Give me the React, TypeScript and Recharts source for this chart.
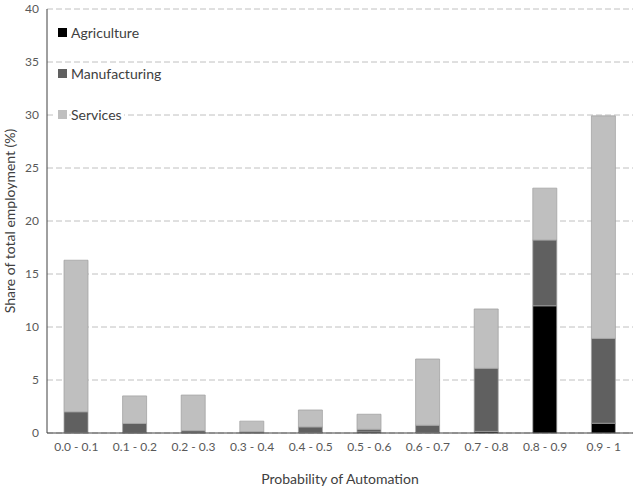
import { BarChart, Bar, XAxis, YAxis, CartesianGrid } from 'recharts'

const categories = ['0.0 - 0.1', '0.1 - 0.2', '0.2 - 0.3', '0.3 - 0.4', '0.4 - 0.5', '0.5 - 0.6', '0.6 - 0.7', '0.7 - 0.8', '0.8 - 0.9', '0.9 - 1']
const agriculture = [0.05, 0.02, 0.02, 0.02, 0.05, 0.1, 0.05, 0.15, 12.0, 0.92]
const manufacturing = [1.95, 0.88, 0.2, 0.1, 0.52, 0.25, 0.68, 5.95, 6.2, 8.0]
const services = [14.3, 2.6, 3.36, 1.0, 1.6, 1.42, 6.25, 5.6, 4.9, 21.0]
const yTicks = [0, 5, 10, 15, 20, 25, 30, 35, 40]

const data = categories.map((c, i) => ({
  name: c,
  Agriculture: agriculture[i],
  Manufacturing: manufacturing[i],
  Services: services[i],
}))

const font = 'Lato, "Open Sans", sans-serif'

const series = [
  { key: 'Agriculture', color: '#000000' },
  { key: 'Manufacturing', color: '#606060' },
  { key: 'Services', color: '#bfbfbf' },
]

// legend sits inside the plot, top-left, one item per gridline band
function LegendBox() {
  return (
    <div style={{ position: 'absolute', left: 58, top: 12, fontFamily: font, fontSize: 14, color: '#404040' }}>
      {series.map((s) => (
        <div key={s.key} style={{ display: 'flex', alignItems: 'center', height: 41 }}>
          <span style={{ display: 'inline-block', width: 9, height: 9, background: s.color, marginRight: 4, outline: '2px solid #fff' }} />
          <span style={{ background: '#fff', paddingRight: 2 }}>{s.key}</span>
        </div>
      ))}
    </div>
  )
}

export default function App() {
  return (
    <div style={{ position: 'fixed', left: 0, top: 0, width: 641, height: 489, background: '#fff' }}>
      <BarChart width={641} height={489} data={data} margin={{ top: 9, right: 8, left: 0, bottom: 0 }} barSize={24}>
        <CartesianGrid vertical={false} stroke="#c0c0c0" strokeDasharray="6 3" />
        <XAxis
          dataKey="name"
          height={56}
          tickLine={false}
          axisLine={{ stroke: '#404040' }}
          tick={{ fontSize: 12, fill: '#595959', fontFamily: font }}
          tickMargin={3}
          interval={0}
        />
        <YAxis
          width={47}
          domain={[0, 40]}
          ticks={yTicks}
          tickLine={false}
          axisLine={{ stroke: '#404040' }}
          tick={{ fontSize: 12, fill: '#595959', fontFamily: font }}
          label={{ value: 'Share of total employment (%)', angle: -90, position: 'center', dx: -13, fontSize: 14, fill: '#404040', fontFamily: font }}
        />
        {series.map((s) => (
          <Bar key={s.key} dataKey={s.key} stackId="a" fill={s.color} stroke="#a0a0a0" strokeWidth={0.75} isAnimationActive={false} />
        ))}
      </BarChart>
      <div style={{ position: 'absolute', left: 47, top: 470, width: 586, textAlign: 'center', fontFamily: font, fontSize: 14, color: '#404040', lineHeight: '18px' }}>
        Probability of Automation
      </div>
      <LegendBox />
    </div>
  )
}
